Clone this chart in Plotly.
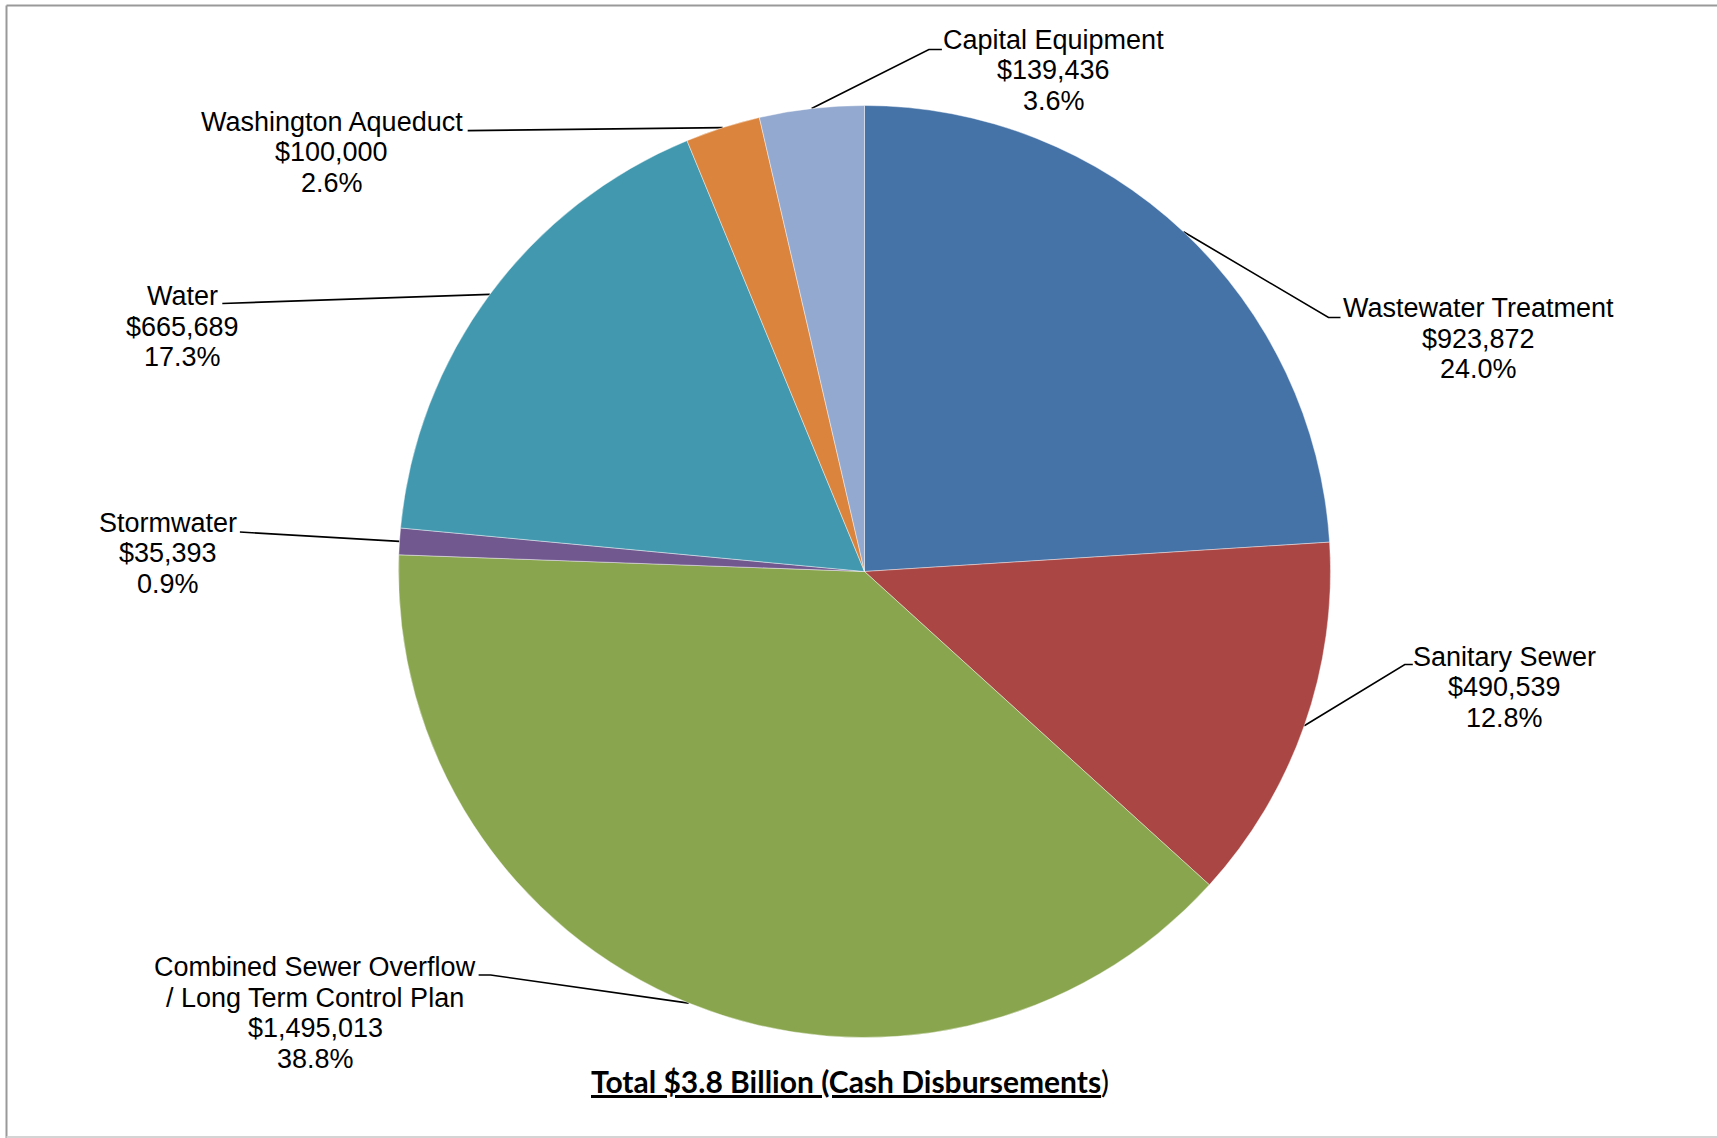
import numpy as np
import plotly.graph_objects as go

# ---------------- data ----------------
categories = [
    "Wastewater Treatment",
    "Sanitary Sewer",
    "Combined Sewer Overflow\n/ Long Term Control Plan",
    "Stormwater",
    "Water",
    "Washington Aqueduct",
    "Capital Equipment",
]
values = [923872, 490539, 1495013, 35393, 665689, 100000, 139436]
pct_labels = ["24.0%", "12.8%", "38.8%", "0.9%", "17.3%", "2.6%", "3.6%"]
colors = ["#4572A7", "#AA4643", "#89A54E", "#71588F", "#4198AF", "#DB843D", "#93A9CF"]
title_text = "Total $3.8 Billion (Cash Disbursements"

# ---------------- layout geometry (pixels) ----------------
W, H = 1717, 1138
CX, CY, R = 864.5, 571.5, 466.0
LINE_GAP = 30.5
# label center x, first line center y, leader outer end (x, y), elbow dx
label_layout = [
    (1478.5, 308.4, 1340.5, 317.5, -12),
    (1504.8, 656.7, 1412.8, 664.5, -8),
    (315.4, 967.3, 478.6, 975.0, 12),
    (167.6, 522.5, 239.9, 532.0, 10),
    (182.9, 296.1, 222.3, 303.5, 10),
    (331.8, 121.9, 467.7, 130.6, 10),
    (1053.6, 39.9, 941.9, 49.5, -13),
]

fig = go.Figure()

total = float(np.sum(values))
cum = np.cumsum(values)
mid = (cum - np.array(values) / 2.0) / total * 2 * np.pi
ex = CX + R * np.sin(mid)
ey = CY - R * np.cos(mid)

lx, ly = [], []
for i, (tx, ty, ox, oy, edx) in enumerate(label_layout):
    lx += [ex[i], ox + edx, ox, None]
    ly += [ey[i], oy, oy, None]

fig.add_trace(go.Scatter(x=lx, y=ly, mode="lines",
                         line=dict(color="black", width=1.6),
                         hoverinfo="skip", showlegend=False))

fig.add_trace(go.Pie(
    labels=[c.replace("\n", " ") for c in categories],
    values=values,
    sort=False,
    direction="clockwise",
    rotation=0,
    textinfo="none",
    marker=dict(colors=colors, line=dict(color="rgba(255,255,255,0.7)", width=0.6)),
    domain=dict(x=[(CX - R) / W, (CX + R) / W],
                y=[(H - CY - R) / H, (H - CY + R) / H]),
    showlegend=False,
    hoverinfo="label+value+percent",
))

annotations = []
for i, (tx, ty, ox, oy, edx) in enumerate(label_layout):
    lines = categories[i].split("\n") + ["${:,}".format(values[i]), pct_labels[i]]
    for k, s in enumerate(lines):
        annotations.append(dict(
            x=tx, y=ty + k * LINE_GAP, xref="x", yref="y",
            text=s, showarrow=False, xanchor="center", yanchor="middle",
            font=dict(family="Liberation Sans, Arial, sans-serif", size=27, color="black"),
        ))

annotations.append(dict(
    x=850, y=1081, xref="x", yref="y",
    text="<u><b>" + title_text + "</b></u>)",
    showarrow=False, xanchor="center", yanchor="middle",
    font=dict(family="Lato, Calibri, sans-serif", size=30, color="black"),
))

border = "#999999"
fig.update_layout(
    width=W, height=H,
    margin=dict(l=0, r=0, t=0, b=0),
    paper_bgcolor="white", plot_bgcolor="white",
    xaxis=dict(range=[0, W], visible=False, fixedrange=True),
    yaxis=dict(range=[H, 0], visible=False, fixedrange=True),
    annotations=annotations,
    shapes=[
        dict(type="line", xref="x", yref="y", x0=6.5, y0=5.5, x1=W + 5, y1=5.5,
             line=dict(color=border, width=2), layer="above"),
        dict(type="line", xref="x", yref="y", x0=6.5, y0=5.5, x1=6.5, y1=H + 5,
             line=dict(color=border, width=2), layer="above"),
        dict(type="line", xref="x", yref="y", x0=6.5, y0=H - 1, x1=W + 5, y1=H - 1,
             line=dict(color="#d4d4d4", width=2), layer="above"),
    ],
)

fig.write_html(
    "out.html",
    config={"displayModeBar": False},
    post_script="document.body.style.margin='0';document.body.style.overflow='hidden';",
)
